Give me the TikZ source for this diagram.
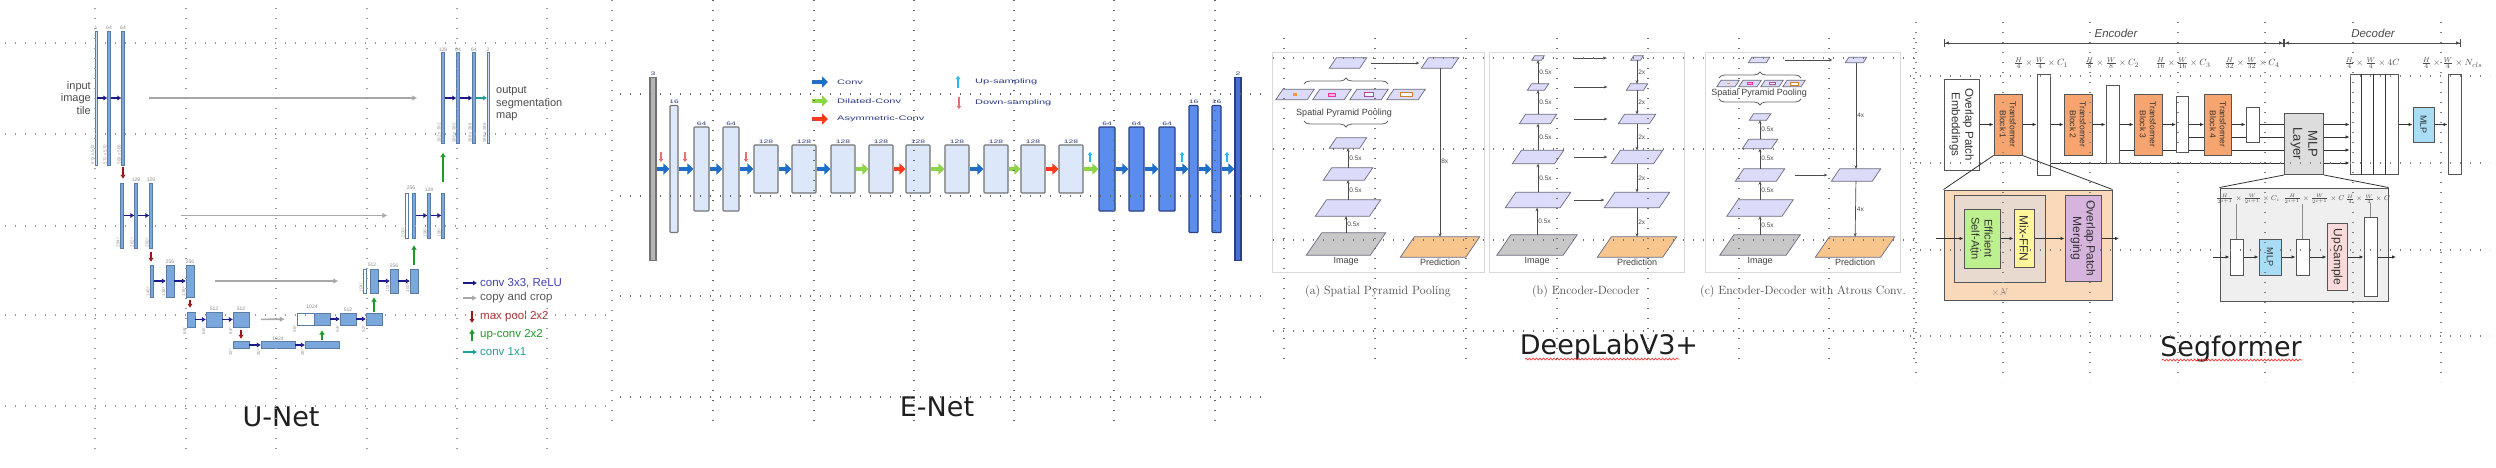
\documentclass[tikz,border=0pt]{standalone}
\usepackage{fontspec}
\usetikzlibrary{arrows.meta,calc,decorations.pathreplacing,decorations.pathmorphing}
\newfontfamily\ls{Liberation Sans}
\newfontfamily\dv{DejaVu Sans}
\newfontfamily\widefont[FakeStretch=1.7]{Liberation Sans}
\pgfdeclarelayer{bg}\pgfdeclarelayer{fg}\pgfsetlayers{bg,main,fg}
\definecolor{unetbar}{HTML}{7AA7DC}
\definecolor{uconvc}{HTML}{1A1A8C}
\definecolor{ucopyc}{HTML}{A8A8A8}
\definecolor{upoolc}{HTML}{9A1515}
\definecolor{uupc}{HTML}{1E9A2A}
\definecolor{utealc}{HTML}{1F9E9A}
\definecolor{uconvt}{HTML}{4040B0}
\definecolor{enlight}{HTML}{DDE7FA}
\definecolor{endark}{HTML}{5B8DEF}
\definecolor{endarkedge}{HTML}{2B3F86}
\definecolor{enlastc}{HTML}{4A6FD0}
\definecolor{engray}{HTML}{B4B4B4}
\definecolor{enb}{HTML}{1F6FC8}
\definecolor{eng}{HTML}{8CD44A}
\definecolor{enr}{HTML}{FF3A1A}
\definecolor{encyan}{HTML}{22B8F0}
\definecolor{enpink}{HTML}{E87070}
\definecolor{entext}{HTML}{2A3A80}
\definecolor{dlav}{HTML}{DCDCFA}
\definecolor{dedge}{HTML}{6A6A80}
\definecolor{dimg}{HTML}{C8C8C8}
\definecolor{dpred}{HTML}{F8C58C}
\definecolor{sorange}{HTML}{F6A470}
\definecolor{sgray}{HTML}{DDDDDD}
\definecolor{sblue}{HTML}{A8DDF5}
\definecolor{szoom}{HTML}{FAD8BA}
\definecolor{sinner}{HTML}{E9DAD0}
\definecolor{sgreen}{HTML}{BDF08E}
\definecolor{syellow}{HTML}{FFF59A}
\definecolor{spurple}{HTML}{D6B4DE}
\definecolor{sgbox}{HTML}{EFEFEF}
\definecolor{spink}{HTML}{FADADA}
\definecolor{sedge}{HTML}{555555}
\newcommand\ubar[7]{%
  \node[ubarst,#6,minimum width=#4,minimum height=#5] (#1) at (#2,#3) {};
  \node[ulab,anchor=south] at ([yshift=0.8pt]#1.north) {#7};}
\newcommand\uside[2]{\node[usidest,anchor=south west] at (#1.south west) {#2};}
\newcommand\usideh[2]{\node[usidest,anchor=south east] at (#1.south west) {#2};}
\newcommand\ebar[6]{%
  \node[#5,minimum width=#3,minimum height=#4] (#1) at (#2,169) {};
  \node[entx,anchor=south] at ([yshift=1.2pt]#1.north) {#6};}
\newcommand\plg[6]{%
  \node[inner sep=0,minimum width=#4,minimum height=#5] (#1) at (#2,#3) {};
  \pgfmathsetmacro\plgsk{0.7*#5}%
  \filldraw[fill=#6,draw=dedge,line width=0.7pt] (#1.south west) -- ([xshift=-\plgsk]#1.south east) -- (#1.north east) -- ([xshift=\plgsk]#1.north west) -- cycle;}
\newcommand\segbox[9]{%
  \node[sbox,fill=#6,minimum width=#4,minimum height=#5] (#1) at (#2,#3) {};
  \node[rotate=-90,align=center,inner sep=0,text=black!80,font=\ls\fontsize{#7}{#8}\selectfont] at (#1) {#9};}
\begin{document}
\begin{tikzpicture}[x=1pt,y=-1pt,
 ubarst/.style={inner sep=0,fill=unetbar,draw=unetbar!75!black,line width=0.3pt},
 ulight/.style={fill=unetbar!35},
 uwhite/.style={fill=white},
 ulab/.style={font=\ls\fontsize{5}{6}\selectfont,text=black!45,inner sep=0},
 usidest/.style={font=\ls\fontsize{4.5}{5}\selectfont,text=black!40,rotate=90,inner sep=0.6pt},
 uconv/.style={draw=uconvc,line width=1.5pt,-{Latex[length=4pt,width=5.5pt]}},
 ucopy/.style={draw=ucopyc,line width=1.6pt,-{Latex[length=5pt,width=5.5pt]}},
 upool/.style={draw=upoolc,line width=2.2pt,-{Latex[length=4pt,width=5.5pt]}},
 uup/.style={draw=uupc,line width=2.2pt,-{Latex[length=4.5pt,width=6pt]}},
 uteal/.style={draw=utealc,line width=1.5pt,-{Latex[length=4pt,width=5.5pt]}},
 utxt/.style={font=\ls\fontsize{11}{12.5}\selectfont,text=black!70,inner sep=0},
 ulegt/.style={font=\ls\fontsize{11.5}{13}\selectfont,anchor=west,inner sep=0},
 ttl/.style={font=\dv\fontsize{27}{30}\selectfont,text=black!88,inner sep=0},
 wavy/.style={draw=red!80,line width=0.7pt,decorate,decoration={snake,amplitude=0.9pt,segment length=3.5pt}},
 enl/.style={inner sep=0,fill=enlight,draw=black!55,line width=1.1pt,rounded corners=0.8pt},
 endk/.style={inner sep=0,fill=endark,draw=endarkedge,line width=1.1pt,rounded corners=0.8pt},
 engr/.style={inner sep=0,fill=engray,draw=black!55,line width=1.1pt},
 enlast/.style={inner sep=0,fill=enlastc,draw=endarkedge,line width=1.1pt},
 entx/.style={font=\widefont\fontsize{5}{6}\selectfont,text=entext,inner sep=0},
 enlegt/.style={font=\widefont\fontsize{6.5}{7}\selectfont,text=entext,anchor=west,inner sep=0},
 fatarr/.style={line width=4.5pt,-{Triangle[length=6pt,width=11pt]}},
 ensm/.style={line width=1.8pt,-{Triangle[length=3pt,width=4.5pt]}},
 dpanel/.style={draw=black!15,line width=0.9pt},
 darr/.style={draw=black!70,line width=0.7pt,-{Stealth[length=3.5pt,width=3pt]}},
 dl/.style={font=\ls\fontsize{6.5}{7}\selectfont,text=black!70,inner sep=1pt},
 dt/.style={font=\ls\fontsize{9}{10}\selectfont,text=black!75,inner sep=0.5pt},
 dcap/.style={font=\rmfamily\fontsize{12}{14}\selectfont,text=black!70,inner sep=0},
 dbrace/.style={draw=black!60,line width=0.8pt,decorate,decoration={brace,amplitude=6pt}},
 sbox/.style={inner sep=0,draw=sedge,line width=1pt},
 sarr/.style={draw=black!80,line width=0.8pt,-{Latex[length=4pt,width=3.5pt]}},
 sline/.style={draw=black!80,line width=0.8pt},
 dimarr/.style={draw=black!70,line width=1pt,{Bar[width=8pt]Latex[length=4pt,width=3.5pt]}-{Latex[length=4pt,width=3.5pt]Bar[width=8pt]}},
 sdim/.style={font=\fontsize{9.5}{11}\selectfont,text=black!70,inner sep=0},
 sdims/.style={font=\fontsize{7}{8}\selectfont,text=black!70,inner sep=0},
 slab/.style={font=\ls\itshape\fontsize{11.5}{13}\selectfont,text=black!70,inner sep=0},
 gridst/.style={line width=1.2pt,dash pattern=on 1.2pt off 8.8pt,line cap=butt}
]
\useasboundingbox (0,0) rectangle (2496,467);
\begin{pgfonlayer}{bg}\fill[white] (0,0) rectangle (2496,467);\end{pgfonlayer}

%% ================= U-Net =================
\ubar{u1a}{96}{98}{1.6}{134}{ulight}{1}
\ubar{u1b}{109}{98}{3}{134}{}{64}
\ubar{u1c}{123}{98}{3}{134}{}{64}
\uside{u1a}{572 x 572}\uside{u1b}{570 x 570}\uside{u1c}{568 x 568}
\draw[uconv] (u1a) -- (u1b);
\draw[uconv] (u1b) -- (u1c);
\node[utxt,anchor=east,align=right] (uin) at (91,98) {input\\image\\tile};

\ubar{r1a}{443}{98}{3}{91}{}{128}
\ubar{r1b}{458}{98}{3}{91}{}{64}
\ubar{r1c}{474}{98}{3}{91}{}{64}
\ubar{r1d}{488}{98}{1.6}{91}{ulight}{2}
\uside{r1a}{392 x 392}\uside{r1b}{390 x 390}\uside{r1c}{388 x 388}\uside{r1d}{388 x 388}
\draw[uconv] (r1a) -- (r1b);
\draw[uconv] (r1b) -- (r1c);
\draw[uteal] (r1c) -- (r1d);
\node[utxt,anchor=west,align=left] (uout) at (496,104) {output\\segmentation\\map};
\draw[ucopy,shorten <=24pt,shorten >=24pt] (u1c) -- (r1a);

\ubar{l2a}{122}{215.5}{3}{65}{}{}
\ubar{l2b}{136}{215.5}{3}{65}{}{128}
\ubar{l2c}{151}{215.5}{3}{65}{}{128}
\uside{l2a}{284²}\uside{l2b}{282²}\uside{l2c}{280²}
\draw[uconv] (l2a) -- (l2b);
\draw[uconv] (l2b) -- (l2c);
\draw[upool,shorten <=2pt,shorten >=4pt] (u1c.south) -- (u1c.south |- l2a.north);

\ubar{r2o}{407}{215.5}{3}{45}{uwhite}{}
\ubar{r2a}{414}{215.5}{3}{45}{}{}
\ubar{r2b}{429}{215.5}{3}{45}{}{128}
\ubar{r2c}{443}{215.5}{3}{45}{}{}
\node[ulab] at (411,188) {256};
\uside{r2o}{200²}\uside{r2b}{198²}\uside{r2c}{196²}
\draw[uconv] (r2a) -- (r2b);
\draw[uconv] (r2b) -- (r2c);
\draw[ucopy,shorten <=28pt,shorten >=18pt] (l2c) -- (r2o);
\draw[uup,shorten <=11pt,shorten >=9pt] (r2c.north) -- (r1a.south);

\ubar{l3a}{152}{281}{3}{32}{}{}
\ubar{l3b}{170}{281}{8}{32}{}{256}
\ubar{l3c}{190}{281}{8}{32}{}{256}
\uside{l3a}{140²}\uside{l3b}{138²}\uside{l3c}{136²}
\draw[uconv] (l3a) -- (l3b);
\draw[uconv] (l3b) -- (l3c);
\draw[upool,shorten <=4pt,shorten >=3pt] (l2c.south) -- (l2c.south |- l3a.north);

\ubar{r3o}{365}{281}{3}{24}{uwhite}{}
\ubar{r3a}{374}{281}{8}{24}{}{}
\ubar{r3b}{394}{281}{8}{24}{}{256}
\ubar{r3c}{414}{281}{8}{24}{}{}
\node[ulab] at (372,265) {512};
\uside{r3o}{104²}\uside{r3b}{102²}\uside{r3c}{100²}
\draw[uconv] (r3a) -- (r3b);
\draw[uconv] (r3b) -- (r3c);
\draw[ucopy,shorten <=21pt,shorten >=25pt] (l3c) -- (r3o);
\draw[uup,shorten <=4pt,shorten >=7pt] (r3c.north) -- (r2a.south);

\ubar{l4a}{191}{319.5}{8}{15}{}{}
\ubar{l4b}{214}{319.5}{16}{15}{}{512}
\ubar{l4c}{241}{319.5}{16}{15}{}{512}
\usideh{l4a}{68²}\usideh{l4b}{66²}\usideh{l4c}{64²}
\draw[uconv] (l4a) -- (l4b);
\draw[uconv] (l4b) -- (l4c);
\draw[upool,shorten <=3pt,shorten >=4pt] (l3c.south) -- (l3c.south |- l4a.north);

\ubar{r4o}{305.5}{319}{17}{12}{uwhite}{}
\ubar{r4a}{322}{319}{16}{12}{}{}
\ubar{r4b}{348}{319}{16}{12}{}{512}
\ubar{r4c}{374}{319}{16}{12}{}{}
\node[ulab] at (312,307) {1024};
\usideh{r4o}{56²}\usideh{r4b}{54²}\usideh{r4c}{52²}
\draw[uconv] (r4a) -- (r4b);
\draw[uconv] (r4b) -- (r4c);
\draw[ucopy,shorten <=12pt,shorten >=12pt] (l4c) -- (r4o);
\draw[uup,shorten <=1pt,shorten >=4pt] (r4c.north) -- (r3a.south);

\ubar{l5a}{241}{345}{16}{7}{}{}
\ubar{l5b}{278}{345}{34}{7}{}{1024}
\ubar{l5c}{322}{345}{34}{7}{}{}
\usideh{l5a}{32²}\usideh{l5b}{30²}\usideh{l5c}{28²}
\draw[uconv] (l5a) -- (l5b);
\draw[uconv] (l5b) -- (l5c);
\draw[upool,shorten <=3pt,shorten >=2.5pt] (l4c.south) -- (l4c.south |- l5a.north);
\draw[uup,shorten <=1pt,shorten >=5pt] (l5c.north) -- (r4a.south);

% legend
\coordinate (ul1a) at (463,283); \coordinate (ul1b) at (477,283);
\coordinate (ul2a) at (463,298); \coordinate (ul2b) at (477,298);
\coordinate (ul3a) at (472,311); \coordinate (ul3b) at (472,323);
\coordinate (ul4a) at (472,341); \coordinate (ul4b) at (472,329);
\coordinate (ul5a) at (463,352); \coordinate (ul5b) at (477,352);
\draw[uconv] (ul1a) -- (ul1b);
\draw[ucopy] (ul2a) -- (ul2b);
\draw[upool] (ul3a) -- (ul3b);
\draw[uup] (ul4a) -- (ul4b);
\draw[uteal] (ul5a) -- (ul5b);
\node[ulegt,text=uconvt] at (480,283) {conv 3x3, ReLU};
\node[ulegt,text=black!65] at (480,298) {copy and crop};
\node[ulegt,text=upoolc!85] at (480,317) {max pool 2x2};
\node[ulegt,text=uupc] at (480,335) {up-conv 2x2};
\node[ulegt,text=utealc] at (480,352) {conv 1x1};
\node[ttl] (tunet) at (281,417) {U-Net};

%% ================= E-Net =================
\ebar{e0}{653}{6}{183}{engr}{3}
\ebar{e1}{674}{8}{127}{enl}{16}
\ebar{e2}{701.5}{15}{84}{enl}{64}
\ebar{e3}{731}{16}{84}{enl}{64}
\foreach \cx [count=\i from 4] in {766,804,843,881,918,957,996,1033,1071}
  {\ebar{e\i}{\cx}{24}{48}{enl}{128}}
\ebar{e13}{1107}{16}{84}{endk}{64}
\ebar{e14}{1136.5}{15}{84}{endk}{64}
\ebar{e15}{1167}{16}{84}{endk}{64}
\ebar{e16}{1193.5}{9}{127}{endk}{16}
\ebar{e17}{1216.5}{9}{127}{endk}{16}
\ebar{e18}{1238}{6}{183}{enlast}{2}
\foreach \a/\b/\c in {0/1/enb,1/2/enb,2/3/enb,3/4/enb,4/5/enb,5/6/enb,6/7/eng,7/8/enr,8/9/eng,9/10/enb,10/11/eng,11/12/enr,12/13/eng,13/14/enb,14/15/enb,15/16/enb,16/17/enb,17/18/enb}
  {\draw[fatarr,color=\c] (e\a) -- (e\b);}
\foreach \x in {661,685,746} {\draw[ensm,color=enpink] (\x,152) -- (\x,162);}
\foreach \x in {1090,1182,1227} {\draw[ensm,color=encyan] (\x,162) -- (\x,152);}
% legend
\coordinate (el1a) at (812,82); \coordinate (el1b) at (828,82);
\coordinate (el2a) at (812,101); \coordinate (el2b) at (828,101);
\coordinate (el3a) at (812,119); \coordinate (el3b) at (828,119);
\coordinate (el4a) at (958,88); \coordinate (el4b) at (958,76);
\coordinate (el5a) at (959,97); \coordinate (el5b) at (959,109);
\draw[fatarr,color=enb] (el1a) -- (el1b);
\draw[fatarr,color=eng] (el2a) -- (el2b);
\draw[fatarr,color=enr] (el3a) -- (el3b);
\draw[ensm,color=encyan] (el4a) -- (el4b);
\draw[ensm,color=enpink] (el5a) -- (el5b);
\node[enlegt] at (837,82) {Conv};
\node[enlegt] at (837,101) {Dilated-Conv};
\node[enlegt] at (837,119) {Asymmetric-Conv};
\node[enlegt] at (975,82) {Up-sampling};
\node[enlegt] at (975,103) {Down-sampling};
\node[ttl] (tenet) at (937,407) {E-Net};

%% ================= DeepLabV3+ =================
\draw[dpanel] (1272,52) rectangle (1484,272);
\draw[dpanel] (1489,52) rectangle (1684,272);
\draw[dpanel] (1705,52) rectangle (1900,272);
% (a)
\plg{at1}{1348}{63}{37}{10}{dlav}
\plg{at2}{1440}{63}{37}{10}{dlav}
\draw[darr,shorten <=4pt,shorten >=2pt] (at1) -- (at2);
\draw[dbrace] (1304,84) -- (1388,84);
\plg{as1}{1295}{94.5}{38}{10}{dlav}
\plg{as2}{1332}{94.5}{38}{10}{dlav}
\plg{as3}{1369}{94.5}{38}{10}{dlav}
\plg{as4}{1406}{94.5}{38}{10}{dlav}
\fill[orange!80] ($(as1)+(-2,-1.2)$) rectangle ($(as1)+(2,1.2)$);
\draw[magenta!80,fill=magenta!30,line width=0.8pt] ($(as2)+(-3.5,-1.5)$) rectangle ($(as2)+(3.5,1.5)$);
\draw[violet!70,fill=white,line width=0.8pt] ($(as3)+(-4.5,-2)$) rectangle ($(as3)+(4.5,2)$);
\draw[brown!70!orange,fill=white,line width=0.8pt] ($(as4)+(-6,-2.3)$) rectangle ($(as4)+(6,2.3)$);
\node[dt] (aspp) at (1344,113) {Spatial Pyramid Pooling};
\draw[dbrace] (1388,121) -- (1304,121);
\plg{ap4}{1348}{143}{37}{10}{dlav}
\plg{ap3}{1348}{174}{49}{12}{dlav}
\plg{ap2}{1348}{208}{65}{16}{dlav}
\plg{aimg}{1346}{244}{79}{22}{dimg}
\draw[darr] (aimg.north) -- node[dl,right] {0.5x} (aimg.north |- ap2.south);
\draw[darr] (ap2.north) -- node[dl,right] {0.5x} (ap2.north |- ap3.south);
\draw[darr] (ap3.north) -- node[dl,right] {0.5x} (ap3.north |- ap4.south);
\plg{apred}{1440}{247}{79}{20}{dpred}
\draw[darr] (at2) -- node[dl,right,pos=0.55] {8x} (apred);
\node[dt,below=1.5pt] at (aimg.south) {Image};
\node[dt,below=1.5pt] at (apred.south) {Prediction};
% (b)
\plg{bl1}{1538}{58}{12}{4}{dlav}
\plg{bl2}{1538}{87}{21}{6}{dlav}
\plg{bl3}{1538}{119}{37}{9}{dlav}
\plg{bl4}{1538}{157}{51}{13}{dlav}
\plg{bl5}{1538}{200}{65}{15}{dlav}
\plg{bimg}{1537}{245}{80}{20}{dimg}
\plg{br1}{1637}{58}{12}{4}{dlav}
\plg{br2}{1637}{87}{21}{6}{dlav}
\plg{br3}{1637}{119}{37}{9}{dlav}
\plg{br4}{1637}{157}{51}{13}{dlav}
\plg{br5}{1637}{200}{65}{15}{dlav}
\plg{bpred}{1637}{247}{79}{20}{dpred}
\draw[darr] (bimg.north) -- node[dl,right] {0.5x} (bimg.north |- bl5.south);
\draw[darr] (bl5.north) -- node[dl,right] {0.5x} (bl5.north |- bl4.south);
\draw[darr] (bl4.north) -- node[dl,right] {0.5x} (bl4.north |- bl3.south);
\draw[darr] (bl3.north) -- node[dl,right] {0.5x} (bl3.north |- bl2.south);
\draw[darr] (bl2.north) -- node[dl,right] {0.5x} (bl2.north |- bl1.south);
\draw[darr] (br1.south) -- node[dl,right] {2x} (br1.south |- br2.north);
\draw[darr] (br2.south) -- node[dl,right] {2x} (br2.south |- br3.north);
\draw[darr] (br3.south) -- node[dl,right] {2x} (br3.south |- br4.north);
\draw[darr] (br4.south) -- node[dl,right] {2x} (br4.south |- br5.north);
\draw[darr] (br5.south) -- node[dl,right] {2x} (br5.south |- bpred.north);
\draw[darr,shorten <=30pt,shorten >=24pt] (bl1) -- (br1);
\draw[darr,shorten <=25pt,shorten >=19pt] (bl2) -- (br2);
\draw[darr,shorten <=17pt,shorten >=11pt] (bl3) -- (br3);
\draw[darr,shorten <=10pt,shorten >=4pt] (bl4) -- (br4);
\draw[darr,shorten <=3pt] (bl5) -- (br5);
\node[dt,below=1.5pt] at (bimg.south) {Image};
\node[dt,below=1.5pt] at (bpred.south) {Prediction};
% (c)
\plg{ct1}{1759}{60}{21}{5}{dlav}
\plg{ct2}{1856}{60}{21}{5}{dlav}
\draw[darr,shorten <=15pt,shorten >=13pt] (ct1) -- (ct2);
\draw[dbrace] (1719,78) -- (1801,78);
\plg{cs1}{1728}{83.5}{22}{6}{dlav}
\plg{cs2}{1750}{83.5}{22}{6}{dlav}
\plg{cs3}{1772}{83.5}{22}{6}{dlav}
\plg{cs4}{1794}{83.5}{22}{6}{dlav}
\fill[orange!80] ($(cs1)+(-1.5,-0.8)$) rectangle ($(cs1)+(1.5,0.8)$);
\draw[magenta!80,fill=magenta!30,line width=0.6pt] ($(cs2)+(-2.5,-1)$) rectangle ($(cs2)+(2.5,1)$);
\draw[violet!70,fill=white,line width=0.6pt] ($(cs3)+(-3,-1.2)$) rectangle ($(cs3)+(3,1.2)$);
\draw[brown!70!orange,fill=white,line width=0.6pt] ($(cs4)+(-4,-1.4)$) rectangle ($(cs4)+(4,1.4)$);
\node[dt] (cspp) at (1759,93) {Spatial Pyramid Pooling};
\draw[dbrace] (1801,99) -- (1719,99);
\plg{cp4}{1760}{117}{21}{6}{dlav}
\plg{cp3}{1760}{144}{35}{9}{dlav}
\plg{cp2}{1760}{175}{49}{12}{dlav}
\plg{cp1}{1760}{208}{66}{16}{dlav}
\plg{cimg}{1760}{245}{80}{20}{dimg}
\draw[darr] (cimg.north) -- node[dl,right] {0.5x} (cimg.north |- cp1.south);
\draw[darr] (cp1.north) -- node[dl,right] {0.5x} (cp1.north |- cp2.south);
\draw[darr] (cp2.north) -- node[dl,right] {0.5x} (cp2.north |- cp3.south);
\draw[darr] (cp3.north) -- node[dl,right] {0.5x} (cp3.north |- cp4.south);
\plg{cr}{1856}{175}{49}{12}{dlav}
\plg{cpred}{1855}{247}{79}{20}{dpred}
\draw[darr] (ct2) -- node[dl,right] {4x} (cr);
\draw[darr,shorten <=10pt,shorten >=4pt] (cp2) -- (cr);
\draw[darr] (cr) -- node[dl,right] {4x} (cpred);
\node[dt,below=1.5pt] at (cimg.south) {Image};
\node[dt,below=1.5pt] at (cpred.south) {Prediction};
% captions
\node[dcap] at (1378,291) {(a) Spatial Pyramid Pooling};
\node[dcap] at (1586,291) {(b) Encoder-Decoder};
\node[dcap] at (1803,291) {(c) Encoder-Decoder with Atrous Conv.};
\node[ttl] (tdeep) at (1609,347) {DeepLabV3+};
\coordinate (dw1) at (1525,359); \coordinate (dw2) at (1679,359);
\draw[wavy] (dw1) -- (dw2);

%% ================= Segformer =================
\coordinate (se1) at (1944,43); \coordinate (se2) at (2284,43); \coordinate (se3) at (2461,43);
\draw[dimarr] (se1) -- (se2);
\draw[dimarr] (se2) -- (se3);
\node[slab] at (2116,33) {Encoder};
\node[slab] at (2373,33) {Decoder};
\node[sdim] at (2041,63) {$\frac{H}{4}\times\frac{W}{4}\times C_1$};
\node[sdim] at (2112,63) {$\frac{H}{8}\times\frac{W}{8}\times C_2$};
\node[sdim] at (2183,63) {$\frac{H}{16}\times\frac{W}{16}\times C_3$};
\node[sdim] at (2252,63) {$\frac{H}{32}\times\frac{W}{32}\times C_4$};
\node[sdim] at (2372,63) {$\frac{H}{4}\times\frac{W}{4}\times 4C$};
\node[sdim] at (2452,63) {$\frac{H}{4}\times\frac{W}{4}\times N_{cls}$};

\segbox{sope}{1961.5}{124.5}{35}{91}{white}{11.5}{13.5}{Overlap Patch\\Embeddings}
\segbox{stb1}{2008}{124.5}{28}{61}{sorange}{8.5}{10}{Transformer\\Block 1}
\segbox{sf1}{2043.5}{124.5}{13}{101}{white}{1}{1}{}
\segbox{stb2}{2078}{124.5}{28}{61}{sorange}{8.5}{10}{Transformer\\Block 2}
\segbox{sf2}{2112.5}{124.5}{13}{78}{white}{1}{1}{}
\segbox{stb3}{2148}{124.5}{28}{61}{sorange}{8.5}{10}{Transformer\\Block 3}
\segbox{sf3}{2182.5}{124.5}{12}{56}{white}{1}{1}{}
\segbox{stb4}{2218}{124.5}{27}{61}{sorange}{8.5}{10}{Transformer\\Block 4}
\segbox{sf4}{2252.5}{124.5}{13}{35}{white}{1}{1}{}
\segbox{smlpl}{2304}{144}{39}{61}{sgray}{13}{15}{MLP\\Layer}
\segbox{scat}{2374}{124.5}{48}{100}{white}{1}{1}{}
\foreach \d in {12,24,36} {\draw[sline] ($(scat.north west)+(\d,0)$) -- ($(scat.south west)+(\d,0)$);}
\segbox{smlp}{2423.5}{124.5}{21}{35}{sblue}{9}{10}{MLP}
\segbox{sout}{2454.5}{124.5}{13}{100}{white}{1}{1}{}
\coordinate (sy1) at (0,124.5); \coordinate (sy2) at (0,137);
\coordinate (sy3) at (0,150); \coordinate (sy4) at (0,163);
\foreach \a/\b in {sope/stb1,stb1/sf1,sf1/stb2,stb2/sf2,sf2/stb3,stb3/sf3,sf3/stb4,stb4/sf4}
  {\draw[sarr] (\a) -- (\b);}
\draw[sline] (sf4) -- (smlpl.west |- sy1);
\begin{pgfonlayer}{bg}
\draw[sline] (sf3.center |- sy2) -- (smlpl.west |- sy2);
\draw[sline] (sf2.center |- sy3) -- (smlpl.west |- sy3);
\draw[sline] (sf1.center |- sy4) -- (smlpl.west |- sy4);
\end{pgfonlayer}
\foreach \k in {1,2,3,4} {\draw[sarr] (smlpl.east |- sy\k) -- (scat.west |- sy\k);}
\draw[sarr] (scat) -- (smlp);
\draw[sarr] (smlp) -- (sout);
% encoder zoom
\segbox{szo}{2028}{245}{168}{110}{szoom}{1}{1}{}
\segbox{sxn}{1999.5}{238.5}{91}{87}{sinner}{1}{1}{}
\segbox{sesa}{1982}{238.5}{36}{59}{sgreen}{11}{13}{Efficient\\Self-Attn}
\segbox{sffn}{2024}{238.5}{20}{58}{syellow}{12}{13}{Mix-FFN}
\segbox{sopm}{2083}{238.5}{36}{86}{spurple}{12}{13.5}{Overlap Patch\\Merging}
\node[font=\fontsize{10}{11}\selectfont,text=black!45,inner sep=0] (sxnl) at (2000,292) {$\times N$};
\coordinate (szin) at (1936,238.5); \coordinate (szout) at (2119,238.5);
\draw[sarr] (szin) -- (sesa);
\draw[sarr] (sesa) -- (sffn);
\draw[sarr] (sffn) -- (sopm);
\draw[sarr] (sopm) -- (szout);
\draw[sline] (stb1.south west) -- (szo.north west);
\draw[sline] (stb1.south east) -- (szo.north east);
% decoder zoom
\segbox{sgb}{2304}{244.5}{168}{113}{sgbox}{1}{1}{}
\draw[sline] (smlpl.south west) -- (sgb.north west);
\draw[sline] (smlpl.south east) -- (sgb.north east);
\segbox{sb1}{2236.5}{257}{13}{36}{white}{1}{1}{}
\segbox{smi}{2270}{257}{22}{36}{sblue}{9}{10}{MLP}
\segbox{sb2}{2302.5}{257}{13}{36}{white}{1}{1}{}
\segbox{sup}{2337}{257}{20}{67}{spink}{12}{13}{UpSample}
\segbox{sb3}{2370.5}{257}{13}{79}{white}{1}{1}{}
\coordinate (sgin) at (2213,257); \coordinate (sgout) at (2396,257);
\draw[sarr] (sgin) -- (sb1);
\draw[sarr] (sb1) -- (smi);
\draw[sarr] (smi) -- (sb2);
\draw[sarr] (sb2) -- (sup);
\draw[sarr] (sup) -- (sb3);
\draw[sarr] (sb3) -- (sgout);
\node[sdims] (sl1) at (2248,199) {$\frac{H}{2^{i+1}}\times\frac{W}{2^{i+1}}\times C_i$};
\node[sdims] (sl2) at (2314,199) {$\frac{H}{2^{i+1}}\times\frac{W}{2^{i+1}}\times C$};
\node[sdims] (sl3) at (2368,199) {$\frac{H}{4}\times\frac{W}{4}\times C$};
\draw[black!45,line width=0.5pt] (sb1.north) -- (sb1.north |- sl1.south);
\draw[black!45,line width=0.5pt] (sb2.north) -- (sb2.north |- sl2.south);
\draw[black!45,line width=0.5pt] (sb3.north) -- (sb3.north |- sl3.south);
\node[ttl] (tseg) at (2231,349) {Segformer};
\coordinate (sw1) at (2162,360); \coordinate (sw2) at (2302,360);
\draw[wavy] (sw1) -- (sw2);

%% ================= grids =================
\begin{pgfonlayer}{fg}
\foreach \gx in {95,186,276,367,457,547} {\draw[gridst,black!40] (\gx,8) -- (\gx,452);}
\draw[gridst,black!45] (612,0) -- (612,427);
\foreach \gy in {43,134,226,315,406} {\draw[gridst,black!40] (5,\gy) -- (612,\gy);}
\foreach \gx in {713,814,914,1014,1114,1215} {\draw[gridst,black!60] (\gx,0) -- (\gx,427);}
\foreach \gy in {94,196,296,397} {\draw[gridst,black!60] (620,\gy) -- (1268,\gy);}
\foreach \gx in {1284,1375,1466,1557,1648,1739,1829,1914} {\draw[gridst,black!55] (\gx,38) -- (\gx,367);}
\foreach \gy in {58,149,240,331} {\draw[gridst,black!55] (1273,\gy) -- (1914,\gy);}
\foreach \gx in {1916,2003,2090,2178,2265,2353,2441} {\draw[gridst,black!50] (\gx,22) -- (\gx,382);}
\foreach \gy in {76,163,250,336} {\draw[gridst,black!50] (1910,\gy) -- (2490,\gy);}
\end{pgfonlayer}
\end{tikzpicture}
\end{document}
